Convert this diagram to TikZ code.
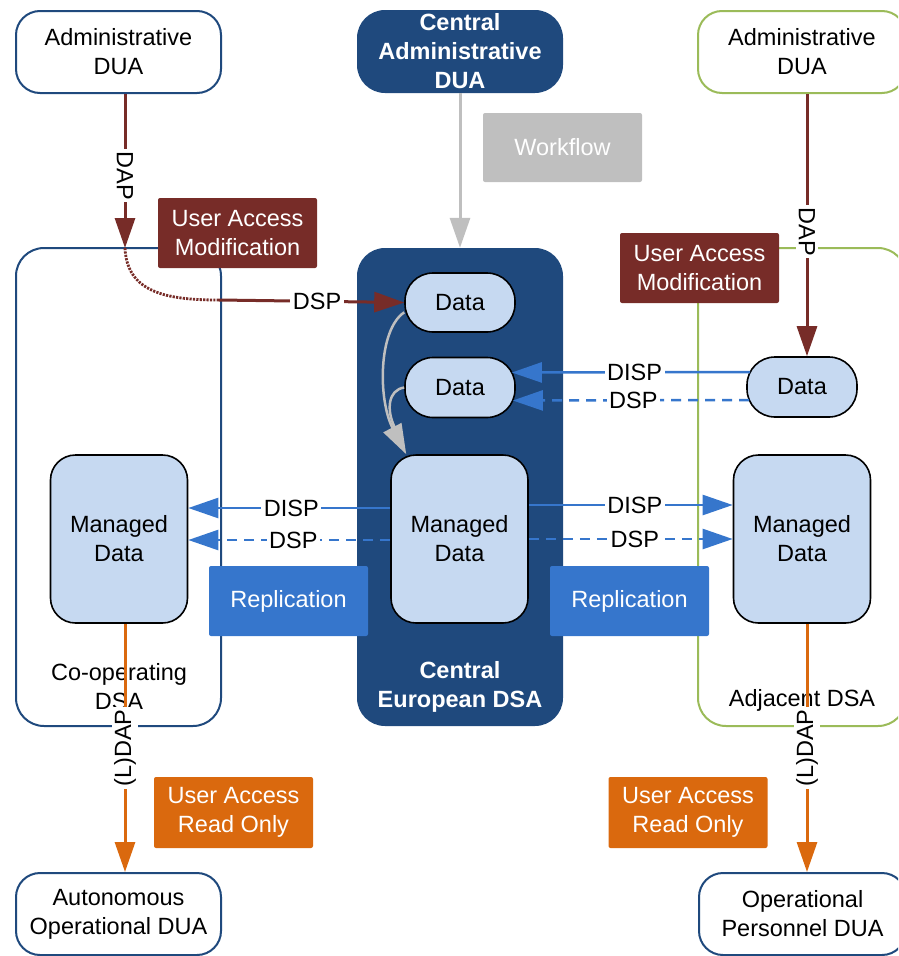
\documentclass[tikz,border=0pt]{standalone}
\usepackage{fontspec}
\setmainfont{Liberation Sans}
\usetikzlibrary{arrows.meta}

\definecolor{navy}{HTML}{1F497D}
\definecolor{leaf}{HTML}{9BBB59}
\definecolor{brick}{HTML}{772C28}
\definecolor{pale}{HTML}{C6D9F1}
\definecolor{royal}{HTML}{3676CC}
\definecolor{amber}{HTML}{DA690E}
\definecolor{mist}{HTML}{BFBFBF}

\begin{document}
\begin{tikzpicture}[x=1pt,y=-1pt,
  every node/.style={font=\fontsize{23.5}{29}\selectfont, align=center, inner sep=0pt},
  boldtext/.style={font=\fontsize{23.5}{29}\selectfont\bfseries, text=white},
  dua/.style={draw=navy, line width=2pt, fill=white, rounded corners=24pt,
              minimum width=205pt, minimum height=82pt},
  hub/.style={fill=navy, rounded corners=28pt, boldtext},
  cont/.style={draw=navy, line width=2pt, rounded corners=28pt,
               minimum width=205pt, minimum height=478pt},
  tag/.style={rounded corners=2pt, text=white, minimum width=159pt, minimum height=70pt},
  datum/.style={draw=black, line width=1.6pt, fill=pale, rounded corners=28pt,
                minimum width=110pt, minimum height=59pt},
  managed/.style={draw=black, line width=1.6pt, fill=pale, rounded corners=25pt,
                  minimum width=137pt, minimum height=168pt},
  headed/.style={-{Triangle[length=30pt,width=20pt]}},
  lbl/.style={fill=white, text=black, inner sep=2.5pt},
  dapline/.style={brick, line width=3pt},
  readline/.style={amber, line width=3pt},
  syncline/.style={royal, line width=2.5pt},
  syncdash/.style={royal, line width=2.5pt, dash pattern=on 10pt off 7pt},
  flowline/.style={mist, line width=2.5pt}
]
\useasboundingbox (0,0) rectangle (898,956);
\clip (0,0) rectangle (898,956);

% DSA containers
\node[cont] (coop) at (118.5,487) {};
\node[hub, minimum width=206pt, minimum height=478pt] (hubC) at (460,487) {};
\node[cont, draw=leaf, minimum width=208pt] (adj) at (802,487) {};
\node (coopT) at (119,686.5) {Co-operating\\DSA};
\node[boldtext] (hubT) at (460,686.5) {Central\\European DSA};
\node (adjT) at (802,700) {Adjacent DSA};

% DUAs
\node[dua] (adminL) at (118.5,52) {Administrative\\DUA};
\node[hub, minimum width=206pt, minimum height=83pt] (adminC) at (460,51.5) {Central\\Administrative\\DUA};
\node[dua, draw=leaf, minimum width=208pt] (adminR) at (802,52) {Administrative\\DUA};
\node[dua] (duaBL) at (118.5,914) {Autonomous\\Operational DUA};
\node[dua, minimum width=207pt] (duaBR) at (802.5,914) {Operational\\Personnel DUA};

% data stores
\node[datum] (data1) at (460,302.5) {Data};
\node[datum, minimum height=60pt] (data2) at (460,387.5) {Data};
\node[datum, minimum height=60pt] (dataR) at (802,387) {Data};
\node[managed] (mdL) at (119,539) {Managed\\Data};
\node[managed] (mdC) at (459.5,539) {Managed\\Data};
\node[managed] (mdR) at (802,539) {Managed\\Data};

% junction points on the container tops
\coordinate (jL) at (125,248);
\coordinate (jR) at (807,248);
\coordinate (kL) at (219,300);
\coordinate (merge) at (395,428);

% workflow
\draw[flowline, line width=3pt, headed] (adminC.south) -- (hubC.north);
\draw[flowline, headed] (data1.190) .. controls (378,330) and (378,400) .. ([xshift=16pt]mdC.north west);
\draw[flowline] (data2.west) .. controls (388,390) and (386,410) .. (merge);

% DAP access
\draw[dapline, headed] (adminL.south -| jL) -- node[lbl, rotate=-90, pos=0.53] {DAP} (jL);
\draw[dapline, line width=2.8pt, dash pattern=on 2.2pt off 1.2pt] (jL) .. controls (127,292) and (165,300) .. (kL);
\draw[dapline, headed] (kL) -- node[lbl, pos=0.53] {DSP} (data1.west);
\draw[dapline, headed] (adminR.south -| jR) -- node[lbl, rotate=-90, pos=0.525] {DAP} (dataR.north -| jR);

% shadowing and replication
\draw[syncline, headed] ([xshift=4pt,yshift=15pt]dataR.west) -- node[lbl, pos=0.485] {DISP} ([xshift=-4pt,yshift=15pt]data2.east);
\draw[syncdash, headed] ([xshift=3pt,yshift=-13pt]dataR.west) -- node[lbl, pos=0.49] {DSP} ([xshift=-3pt,yshift=-13pt]data2.east);
\draw[syncline, headed] ([yshift=34pt]mdC.east) -- node[lbl, pos=0.52] {DISP} ([yshift=34pt]mdR.west);
\draw[syncdash, headed] (mdC.east) -- node[lbl, pos=0.52] {DSP} (mdR.west);
\draw[syncline, headed] ([yshift=31pt]mdC.west) -- node[lbl, pos=0.49] {DISP} ([yshift=31pt]mdL.east);
\draw[syncdash, headed] ([yshift=-1pt]mdC.west) -- node[lbl, pos=0.48] {DSP} ([yshift=-1pt]mdL.east);

% read-only access
\draw[readline, headed] (mdL.south -| jL) -- node[lbl, rotate=90, pos=0.5] {(L)DAP} (duaBL.north -| jL);
\draw[readline, headed] (mdR.south -| jR) -- node[lbl, rotate=90, pos=0.5] {(L)DAP} (duaBR.north -| jR);

% captions
\node[tag, fill=mist, minimum height=69pt] (flow) at (562.5,147.5) {Workflow};
\node[tag, fill=brick] (uamL) at (237.5,233) {User Access\\Modification};
\node[tag, fill=brick] (uamR) at (699.5,268) {User Access\\Modification};
\node[tag, fill=royal] (repL) at (288.5,601) {Replication};
\node[tag, fill=royal] (repR) at (629.5,601) {Replication};
\node[tag, fill=amber, minimum height=71pt] (uroL) at (233.5,812.5) {User Access\\Read Only};
\node[tag, fill=amber, minimum height=71pt] (uroR) at (688,812.5) {User Access\\Read Only};
\end{tikzpicture}
\end{document}
